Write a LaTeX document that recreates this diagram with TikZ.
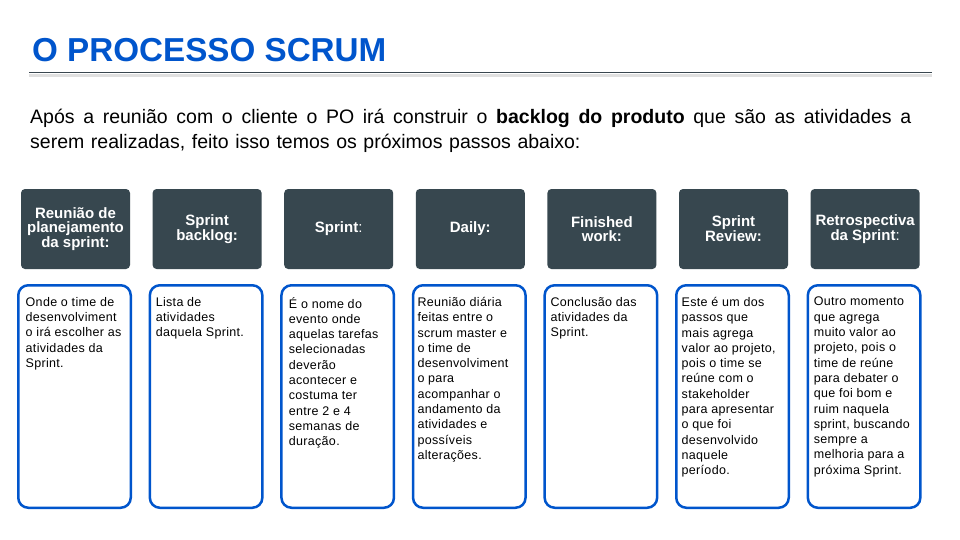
\documentclass[tikz,border=0pt]{standalone}
\usepackage{fontspec}
\setmainfont{Liberation Sans}
\definecolor{scrumblue}{HTML}{0055CC}
\definecolor{slate}{HTML}{37474F}
\definecolor{rule}{HTML}{3A4750}
\begin{document}
\begin{tikzpicture}[x=1pt,y=-1pt,
  hdr/.style={rectangle, rounded corners=4pt, fill=slate, minimum width=109pt,
    minimum height=80pt, inner sep=2pt, text=white, align=center,
    font=\fontsize{15}{13.5}\selectfont\bfseries},
  card/.style={rectangle, rounded corners=10pt, draw=scrumblue, line width=2.5pt,
    fill=white, minimum width=112.5pt, minimum height=222.5pt, inner sep=0pt},
  cardtext/.style={anchor=north west, inner sep=0pt, align=left,
    font=\fontsize{12.5}{15.3}\selectfont\addfontfeature{LetterSpace=2.5}},
]
\useasboundingbox[fill=white] (0,0) rectangle (960,540);

% title and rule
\node[anchor=base west, inner sep=0pt, text=scrumblue,
  font=\fontsize{33.2}{36}\selectfont\bfseries] (title) at (32,61.5) {O PROCESSO SCRUM};
\coordinate (ruleL) at (29,73);
\coordinate (ruleR) at (932,73);
\draw[black!12, line width=3pt] ([yshift=-2.5pt]ruleL) -- ([yshift=-2.5pt]ruleR);
\draw[rule, line width=1pt] (ruleL) -- (ruleR);

% introduction
\node[anchor=base west, inner sep=0pt, text width=881pt, align=justify,
  font=\fontsize{19.5}{24.7}\selectfont] (intro) at (30,124)
  {\spaceskip=6.6pt plus 6pt minus 1pt
   Após a reunião com o cliente o PO irá construir o \textbf{backlog do produto} que são as atividades a\linebreak
   serem realizadas, feito isso temos os próximos passos abaixo:};

% column headers
\foreach \i/\t in {1/{Reunião de\\planejamento\\da sprint:},
                   2/{Sprint\\backlog:},
                   3/{Sprint\mdseries:},
                   4/{Daily:},
                   5/{Finished\\work:},
                   6/{Sprint\\Review:},
                   7/{Retrospectiva\\da Sprint\mdseries:}}
  \node[hdr] (h\i) at ({75.5+131.6*(\i-1)},229) {\t};

% cards
\foreach \i in {1,...,7}
  \node[card] (c\i) at ({74.5+131.6*(\i-1)},396.5) {};

\node[cardtext] (t1) at ([xshift=8.5pt,yshift=-13pt]c1.north west)
  {Onde o time de\\desenvolviment\\o irá escolher as\\atividades da\\Sprint.};
\node[cardtext] (t2) at ([xshift=7pt,yshift=-13pt]c2.north west)
  {Lista de\\atividades\\daquela Sprint.};
\node[cardtext] (t3) at ([xshift=8.5pt,yshift=-13pt]c3.north west)
  {É o nome do\\evento onde\\aquelas tarefas\\selecionadas\\deverão\\acontecer e\\costuma ter\\entre 2 e 4\\semanas de\\duração.};
\node[cardtext] (t4) at ([xshift=5.5pt,yshift=-13pt]c4.north west)
  {Reunião diária\\feitas entre o\\scrum master e\\o time de\\desenvolviment\\o para\\acompanhar o\\andamento da\\atividades e\\possíveis\\alterações.};
\node[cardtext] (t5) at ([xshift=7pt,yshift=-13pt]c5.north west)
  {Conclusão das\\atividades da\\Sprint.};
\node[cardtext] (t6) at ([xshift=6.5pt,yshift=-13pt]c6.north west)
  {Este é um dos\\passos que\\mais agrega\\valor ao projeto,\\pois o time se\\reúne com o\\stakeholder\\para apresentar\\o que foi\\desenvolvido\\naquele\\período.};
\node[cardtext] (t7) at ([xshift=7pt,yshift=-13pt]c7.north west)
  {Outro momento\\que agrega\\muito valor ao\\projeto, pois o\\time de reúne\\para debater o\\que foi bom e\\ruim naquela\\sprint, buscando\\sempre a\\melhoria para a\\próxima Sprint.};
\end{tikzpicture}
\end{document}
